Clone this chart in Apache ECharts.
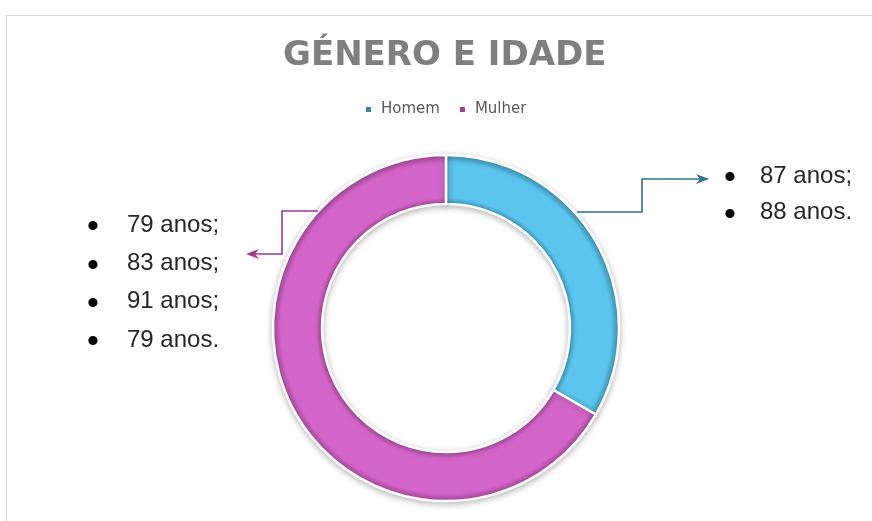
<!DOCTYPE html>
<html>
<head>
<meta charset="utf-8">
<script src="https://cdn.jsdelivr.net/npm/echarts@6/dist/echarts.min.js"></script>
<style>
html,body{margin:0;padding:0;background:#fff;}
#chart{width:872px;height:521px;}
</style>
</head>
<body>
<div id="chart"></div>
<script>
// ---- data ----
const titleText = 'GÉNERO E IDADE';
const categories = ['Homem', 'Mulher'];
const counts = [2, 4];
const homemAges = ['87 anos;', '88 anos.'];
const mulherAges = ['79 anos;', '83 anos;', '91 anos;', '79 anos.'];

// ---- styles ----
const sliceBase = ['#5bc5ed', '#d465c8'];
const sliceEdge = ['#3d97bd', '#a5489c'];
const legendColors = ['#3485a9', '#a33c9b'];
const arrowColors = ['#2f7190', '#a0368f'];

const cx = 446, cy = 328, rIn = 124, rOut = 173;

function ringGradient(i) {
  const a = rIn / rOut;
  return {
    type: 'radial', x: cx, y: cy, r: rOut, global: true,
    colorStops: [
      { offset: 0, color: sliceEdge[i] },
      { offset: a, color: sliceEdge[i] },
      { offset: a + 0.035, color: sliceBase[i] },
      { offset: 0.955, color: sliceBase[i] },
      { offset: 1, color: sliceEdge[i] }
    ]
  };
}

const chart = echarts.init(document.getElementById('chart'), null, { renderer: 'canvas' });

const graphics = [];
// outer frame
graphics.push({
  type: 'rect', z: 0, silent: true,
  shape: { x: 6.5, y: 15.5, width: 900, height: 600 },
  style: { fill: 'none', stroke: '#d9d9d9', lineWidth: 1 }
});

function addList(items, bulletX, textX, y0, dy) {
  items.forEach((t, k) => {
    const y = y0 + k * dy;
    graphics.push({
      type: 'text', z: 10,
      style: { text: '•', x: bulletX, y: y + 3, fill: '#000', fontSize: 34,
        fontFamily: '"Liberation Sans", Arial, sans-serif', align: 'center', verticalAlign: 'middle' }
    });
    graphics.push({
      type: 'text', z: 10,
      style: { text: t, x: textX, y: y, fill: '#262626', fontSize: 24,
        fontFamily: '"Liberation Sans", Arial, sans-serif', align: 'left', verticalAlign: 'middle' }
    });
  });
}
addList(mulherAges, 93, 127, 225, 38.3);
addList(homemAges, 730, 760, 176, 36.7);

function addArrow(points, tip, dir, color) {
  graphics.push({
    type: 'polyline', z: 10, silent: true,
    shape: { points: points },
    style: { stroke: color, lineWidth: 1.6, fill: null }
  });
  const [tx, ty] = tip;
  const L = 13, W = 5;
  graphics.push({
    type: 'polygon', z: 10, silent: true,
    shape: { points: [[tx, ty], [tx - dir * L, ty - W], [tx - dir * (L - 4), ty], [tx - dir * L, ty + W]] },
    style: { fill: color }
  });
}
addArrow([[577, 212], [642, 212], [642, 179], [701, 179]], [709, 179], 1, arrowColors[0]);
addArrow([[318, 211], [282, 211], [282, 254], [254, 254]], [246, 254], -1, arrowColors[1]);

const option = {
  animation: false,
  backgroundColor: '#ffffff',
  title: {
    text: titleText,
    left: 283,
    top: 39,
    padding: 0,
    textStyle: {
      fontFamily: '"DejaVu Sans", sans-serif',
      fontWeight: 'bold',
      fontSize: 34,
      color: '#7f7f7f'
    }
  },
  legend: {
    left: 364,
    top: 102,
    padding: 0,
    icon: 'rect',
    itemWidth: 7,
    itemHeight: 7,
    itemGap: 18,
    selectedMode: false,
    textStyle: {
      fontFamily: '"DejaVu Sans", sans-serif',
      fontSize: 15,
      color: '#595959',
      padding: [0, 0, 0, 4]
    },
    data: categories.map((c, i) => ({ name: c, itemStyle: { color: legendColors[i] } }))
  },
  graphic: graphics,
  series: [{
    type: 'pie',
    center: [cx, cy],
    radius: [rIn, rOut],
    startAngle: 90,
    clockwise: true,
    label: { show: false },
    labelLine: { show: false },
    emphasis: { disabled: true },
    itemStyle: {
      borderColor: '#ffffff',
      borderWidth: 2.5,
      shadowBlur: 6,
      shadowOffsetY: 2,
      shadowColor: 'rgba(0,0,0,0.25)'
    },
    data: categories.map((c, i) => ({
      name: c, value: counts[i],
      itemStyle: { color: ringGradient(i) }
    }))
  }]
};
chart.setOption(option);
</script>
</body>
</html>
